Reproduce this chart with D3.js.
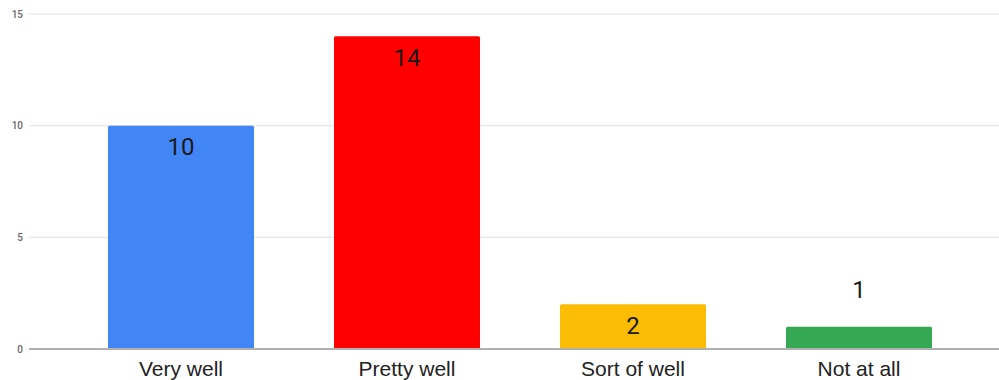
<!DOCTYPE html>
<html>
<head>
<meta charset="utf-8">
<script src="https://cdn.jsdelivr.net/npm/d3@7"></script>
<style>
  html, body { margin: 0; padding: 0; background: #fff; }
  svg { display: block; }
</style>
</head>
<body>
<svg id="chart" width="999" height="380"></svg>
<script>
const categories = ["Very well", "Pretty well", "Sort of well", "Not at all"];
const values = [10, 14, 2, 1];
const colors = ["#4285F4", "#FF0000", "#FBBC04", "#34A853"];
const yTicks = [0, 5, 10, 15];

const svg = d3.select("#chart");
const plot = { left: 29, right: 999, top: 14, bottom: 349 };

const x = d3.scaleBand()
  .domain(categories)
  .range([68, 972])
  .paddingInner(0.354)
  .paddingOuter(0.177);

const y = d3.scaleLinear()
  .domain([0, 15])
  .range([plot.bottom, plot.top]);

// horizontal gridlines
svg.append("g")
  .selectAll("line")
  .data(yTicks.filter(d => d !== 0))
  .join("line")
  .attr("x1", plot.left)
  .attr("x2", plot.right)
  .attr("y1", d => y(d))
  .attr("y2", d => y(d))
  .attr("stroke", "#e6e6e6")
  .attr("stroke-width", 1.2);

// y tick labels
svg.append("g")
  .selectAll("text")
  .data(yTicks)
  .join("text")
  .attr("x", 23)
  .attr("y", d => y(d))
  .attr("dy", "0.35em")
  .attr("text-anchor", "end")
  .attr("font-family", "Roboto, 'Liberation Sans', sans-serif")
  .attr("font-size", 10)
  .attr("font-weight", 500)
  .attr("fill", "#666")
  .text(d => d);

// bars
svg.append("g")
  .selectAll("rect")
  .data(categories)
  .join("rect")
  .attr("x", d => x(d))
  .attr("width", x.bandwidth())
  .attr("y", (d, i) => y(values[i]))
  .attr("height", (d, i) => y(0) - y(values[i]))
  .attr("rx", 1.5)
  .attr("fill", (d, i) => colors[i]);

// baseline
svg.append("line")
  .attr("x1", plot.left)
  .attr("x2", plot.right)
  .attr("y1", y(0))
  .attr("y2", y(0))
  .attr("stroke", "#b0b0b0")
  .attr("stroke-width", 2);

// value labels: inside the bar when it is tall enough, otherwise above
svg.append("g")
  .selectAll("text")
  .data(categories)
  .join("text")
  .attr("x", d => x(d) + x.bandwidth() / 2)
  .attr("y", (d, i) => {
    const top = y(values[i]);
    return (y(0) - top) > 30 ? top + 21 : top - 37;
  })
  .attr("dy", "0.35em")
  .attr("text-anchor", "middle")
  .attr("font-family", "Roboto, 'Liberation Sans', sans-serif")
  .attr("font-size", 24)
  .attr("fill", "#1a1a1a")
  .text((d, i) => values[i]);

// category labels
svg.append("g")
  .selectAll("text")
  .data(categories)
  .join("text")
  .attr("x", d => x(d) + x.bandwidth() / 2)
  .attr("y", 369)
  .attr("dy", "0.35em")
  .attr("text-anchor", "middle")
  .attr("font-family", "'Liberation Sans', Arial, sans-serif")
  .attr("font-size", 21)
  .attr("fill", "#222")
  .text(d => d);
</script>
</body>
</html>
